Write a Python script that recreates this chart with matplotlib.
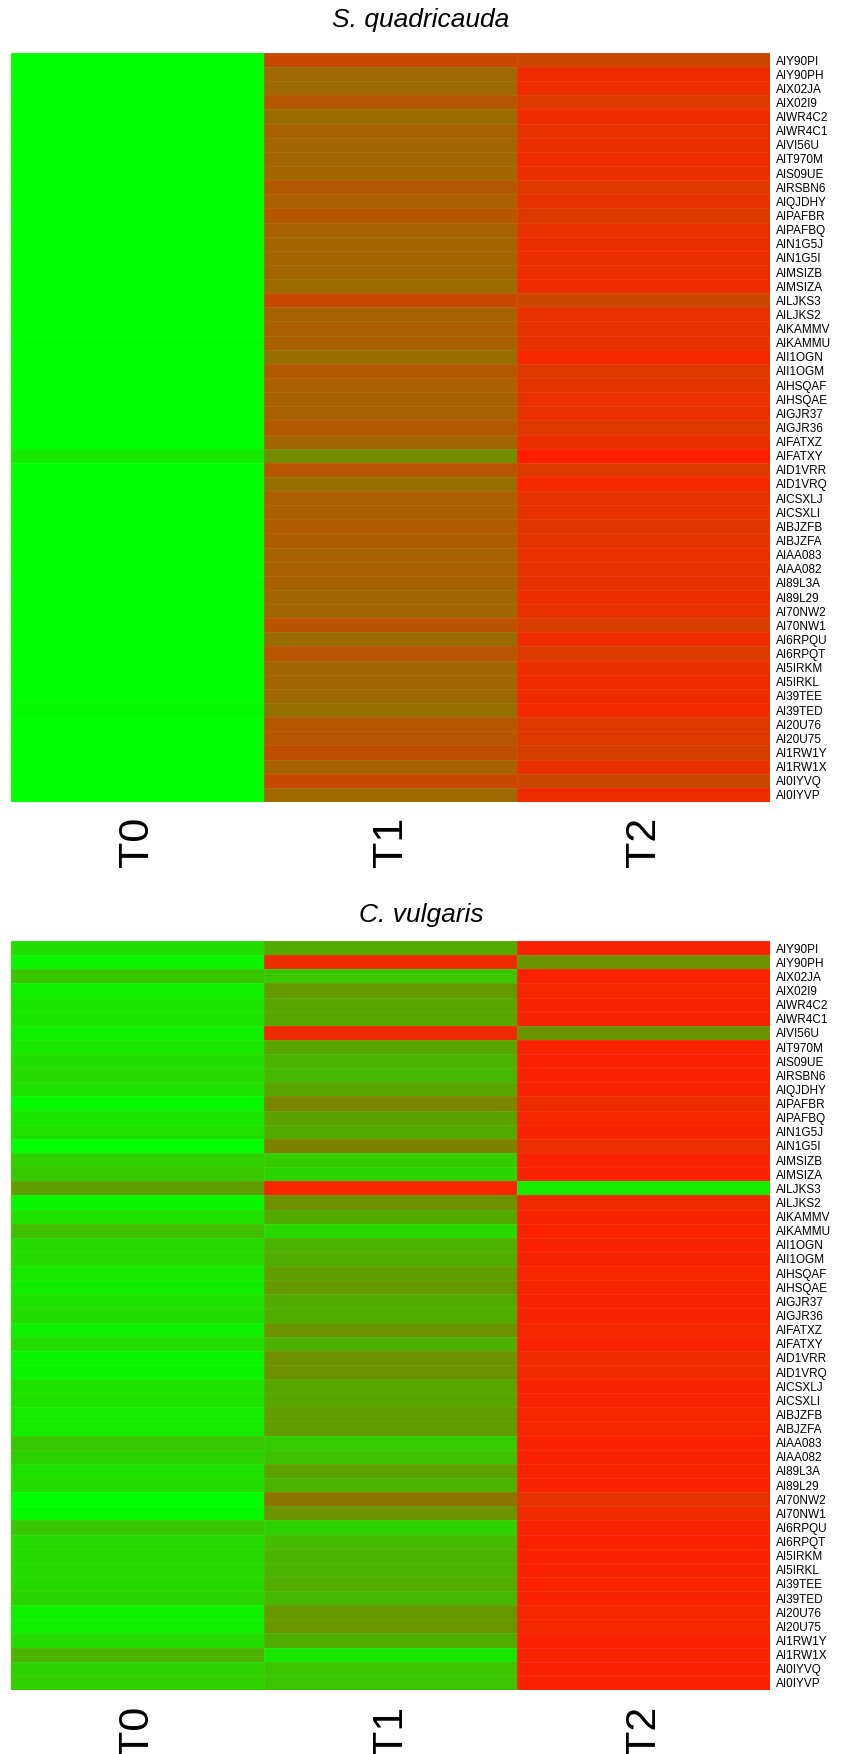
import matplotlib
matplotlib.use("Agg")
import matplotlib.pyplot as plt
import numpy as np
from matplotlib.colors import LinearSegmentedColormap

plt.rcParams['font.family'] = ['Liberation Sans', 'DejaVu Sans']

genes = ["AIY90PI", "AIY90PH", "AIX02JA", "AIX02I9", "AIWR4C2", "AIWR4C1", "AIVI56U",
         "AIT970M", "AIS09UE", "AIRSBN6", "AIQJDHY", "AIPAFBR", "AIPAFBQ", "AIN1G5J",
         "AIN1G5I", "AIMSIZB", "AIMSIZA", "AILJKS3", "AILJKS2", "AIKAMMV", "AIKAMMU",
         "AII1OGN", "AII1OGM", "AIHSQAF", "AIHSQAE", "AIGJR37", "AIGJR36", "AIFATXZ",
         "AIFATXY", "AID1VRR", "AID1VRQ", "AICSXLJ", "AICSXLI", "AIBJZFB", "AIBJZFA",
         "AIAA083", "AIAA082", "AI89L3A", "AI89L29", "AI70NW2", "AI70NW1", "AI6RPQU",
         "AI6RPQT", "AI5IRKM", "AI5IRKL", "AI39TEE", "AI39TED", "AI20U76", "AI20U75",
         "AI1RW1Y", "AI1RW1X", "AI0IYVQ", "AI0IYVP"]
times = ["T0", "T1", "T2"]

# S. quadricauda (0 = green, 1 = red)
sq_t0 = [0.0, 0.0, 0.0, 0.0, 0.0, 0.0, 0.0, 0.0, 0.0, 0.0, 0.0, 0.0, 0.0, 0.0,
         0.0, 0.0, 0.0, 0.0, 0.0, 0.0, 0.0, 0.0, 0.0, 0.0, 0.0, 0.0, 0.0, 0.0,
         0.08, 0.0, 0.0, 0.0, 0.0, 0.0, 0.0, 0.0, 0.0, 0.0, 0.0, 0.0, 0.0, 0.0,
         0.0, 0.0, 0.0, 0.0, 0.02, 0.0, 0.0, 0.0, 0.0, 0.0, 0.0]
sq_t1 = [0.78, 0.62, 0.62, 0.71, 0.60, 0.65, 0.64, 0.63, 0.64, 0.70, 0.67, 0.71, 0.65, 0.64,
         0.64, 0.63, 0.61, 0.78, 0.65, 0.67, 0.66, 0.59, 0.70, 0.67, 0.65, 0.65, 0.70, 0.63,
         0.45, 0.72, 0.59, 0.67, 0.67, 0.69, 0.68, 0.65, 0.66, 0.65, 0.63, 0.64, 0.73, 0.60,
         0.72, 0.63, 0.63, 0.62, 0.58, 0.70, 0.70, 0.75, 0.65, 0.78, 0.62]
sq_t2 = [0.79, 0.93, 0.93, 0.86, 0.94, 0.91, 0.92, 0.93, 0.92, 0.87, 0.90, 0.86, 0.91, 0.92,
         0.92, 0.92, 0.94, 0.79, 0.91, 0.90, 0.90, 0.95, 0.87, 0.89, 0.91, 0.91, 0.87, 0.92,
         1.00, 0.86, 0.95, 0.90, 0.90, 0.88, 0.89, 0.91, 0.90, 0.90, 0.92, 0.91, 0.85, 0.94,
         0.86, 0.92, 0.93, 0.93, 0.95, 0.87, 0.87, 0.83, 0.91, 0.79, 0.93]

# C. vulgaris
cv_t0 = [0.13, 0.04, 0.22, 0.06, 0.10, 0.10, 0.06, 0.10, 0.13, 0.15, 0.12, 0.02, 0.10, 0.12,
         0.00, 0.18, 0.22, 0.38, 0.04, 0.12, 0.25, 0.15, 0.15, 0.09, 0.07, 0.12, 0.13, 0.06,
         0.14, 0.04, 0.04, 0.12, 0.12, 0.08, 0.08, 0.22, 0.18, 0.12, 0.14, 0.00, 0.02, 0.22,
         0.15, 0.15, 0.15, 0.15, 0.17, 0.06, 0.06, 0.14, 0.30, 0.18, 0.19]
cv_t1 = [0.33, 0.93, 0.22, 0.40, 0.35, 0.35, 0.93, 0.35, 0.30, 0.28, 0.35, 0.48, 0.36, 0.33,
         0.50, 0.20, 0.17, 0.96, 0.43, 0.33, 0.15, 0.30, 0.32, 0.38, 0.40, 0.33, 0.32, 0.42,
         0.31, 0.43, 0.43, 0.35, 0.35, 0.39, 0.39, 0.20, 0.24, 0.36, 0.30, 0.55, 0.42, 0.18,
         0.27, 0.30, 0.30, 0.32, 0.28, 0.40, 0.41, 0.32, 0.10, 0.23, 0.23]
cv_t2 = [0.98, 0.42, 0.98, 0.95, 0.97, 0.97, 0.42, 0.97, 0.98, 0.98, 0.97, 0.93, 0.96, 0.97,
         0.92, 0.98, 0.98, 0.08, 0.93, 0.97, 0.98, 0.98, 0.97, 0.96, 0.96, 0.97, 0.97, 0.95,
         0.98, 0.94, 0.94, 0.97, 0.97, 0.96, 0.96, 0.98, 0.98, 0.97, 0.98, 0.90, 0.94, 0.98,
         0.98, 0.98, 0.98, 0.98, 0.98, 0.96, 0.95, 0.98, 0.98, 0.98, 0.98]

cmap = LinearSegmentedColormap.from_list("gr", ["#00FF00", "#808000", "#FF1E00"])

fig = plt.figure(figsize=(8.59, 17.54), dpi=100)

panels = [
    ("S. quadricauda", [sq_t0, sq_t1, sq_t2], [0.0128, 0.5428, 0.8836, 0.4270], 0.9886),
    ("C. vulgaris", [cv_t0, cv_t1, cv_t2], [0.0128, 0.0365, 0.8836, 0.4270], 0.4785),
]

for title, cols, rect, ty in panels:
    ax = fig.add_axes(rect)
    data = np.array(cols).T
    ax.pcolormesh(data, cmap=cmap, vmin=0, vmax=1,
                  edgecolors=(1, 1, 1, 0.06), linewidth=0.6)
    ax.set_xlim(0, 3)
    ax.set_ylim(len(genes), 0)
    ax.set_xticks(np.arange(3) + 0.5)
    ax.set_xticklabels(times, rotation=90, fontsize=31, va="top")
    ax.set_yticks(np.arange(len(genes)) + 0.5)
    ax.set_yticklabels(genes, fontsize=8.5)
    ax.yaxis.tick_right()
    ax.tick_params(axis="y", length=0, pad=4)
    ax.tick_params(axis="x", length=0, pad=11)
    for s in ax.spines.values():
        s.set_visible(False)
    fig.text(0.49, ty, title, ha="center", va="center", fontsize=19, style="italic")

fig.savefig("out.png", dpi=100)
